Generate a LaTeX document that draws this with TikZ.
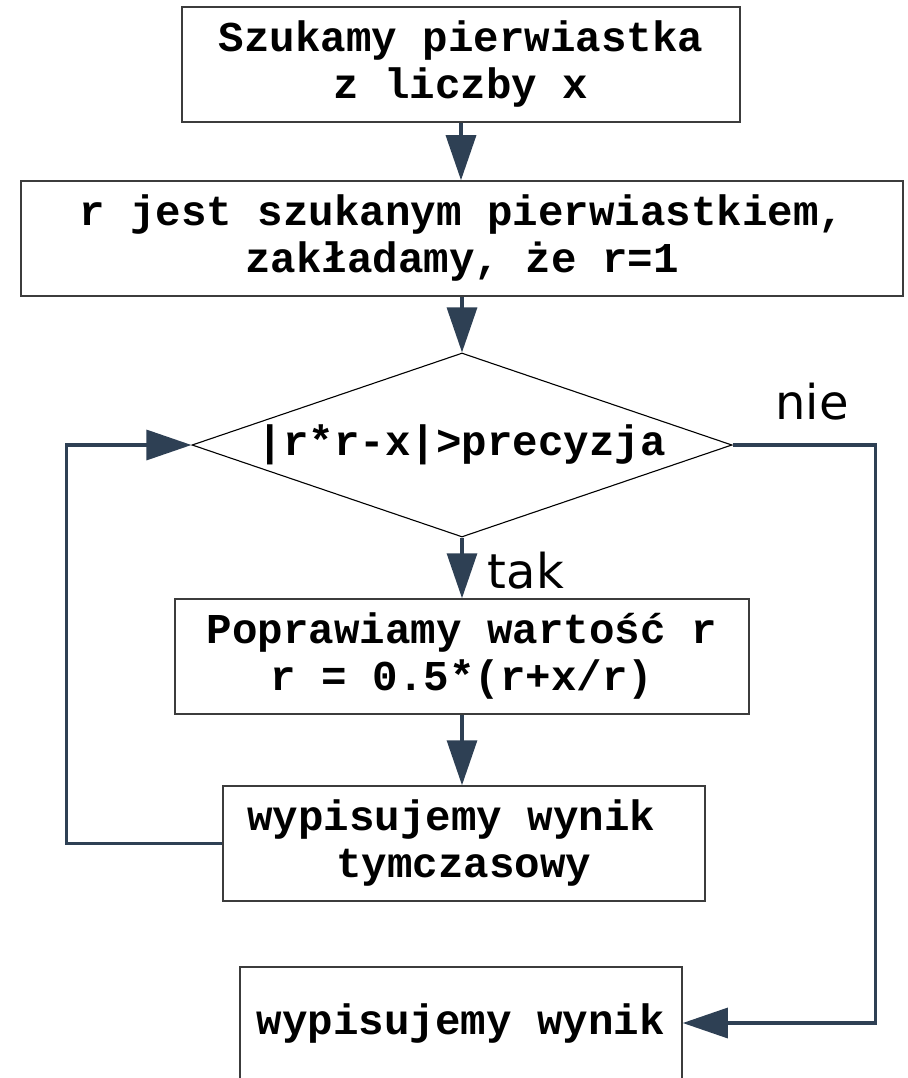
\documentclass[tikz,border=0pt]{standalone}
\usepackage{fontspec}
\setmonofont{Liberation Mono}
\newfontfamily\labelfont{DejaVu Sans}
\usetikzlibrary{arrows.meta,shapes.geometric}

\definecolor{flowline}{RGB}{46,64,84}
\definecolor{boxedge}{RGB}{60,60,60}

\newcommand\codefont{\ttfamily\bfseries\fontsize{42.5}{47}\selectfont}
\tikzset{
  stepbox/.style={draw=boxedge, line width=1.5pt, rectangle, inner sep=0pt,
    align=center, font=\codefont},
  decision/.style={draw=black, line width=1.1pt, diamond, inner sep=0pt},
  conn/.style={draw=flowline, line width=3.2pt,
    -{Triangle[length=45pt,width=30pt]}},
  branchlabel/.style={font=\labelfont\fontsize{48}{54}\selectfont, inner sep=0pt, anchor=base},
}

\begin{document}
\begin{tikzpicture}[x=1pt,y=-1pt]
  \useasboundingbox (0,0) rectangle (907,1078);

  % process steps
  \node[stepbox, minimum width=558pt, minimum height=115pt] (start) at (461,64.5)
    {Szukamy pierwiastka\\z liczby x};
  \node[stepbox, minimum width=882pt, minimum height=115pt] (init) at (462,238.5)
    {r jest szukanym pierwiastkiem,\\zakładamy, że r=1};
  \node[decision, minimum width=540pt, minimum height=184pt] (test) at (462,445) {};
  \node[font=\codefont, inner sep=0pt] (testtext) at (test.center) {|r*r-x|>precyzja};
  \node[stepbox, minimum width=574pt, minimum height=115pt] (update) at (462,656.5)
    {Poprawiamy wartość r\\r = 0.5*(r+x/r)};
  \node[stepbox, minimum width=482pt, minimum height=115pt] (partial) at (464,843.5)
    {wypisujemy wynik\hphantom{x}\\tymczasowy};
  \node[stepbox, minimum width=442pt, minimum height=112pt] (result) at (461,1023)
    {wypisujemy wynik};

  % connectors (kept vertical between boxes of slightly different centres)
  \draw[conn] (start.south) -- (start.south |- init.north);
  \draw[conn] (init.south) -- (init.south |- test.north);
  \draw[conn] (test.south) -- (test.south |- update.north);
  \draw[conn] (update.south) -- (update.south |- partial.north);
  \draw[conn] (partial.west) -- ++(-156,0) |- (test.west);
  \draw[conn] (test.east) -- ++(143,0) |- (result.east);

  % branch labels
  \node[branchlabel] (yes) at (526,588) {tak};
  \node[branchlabel] (no) at (812,419) {nie};
\end{tikzpicture}
\end{document}
